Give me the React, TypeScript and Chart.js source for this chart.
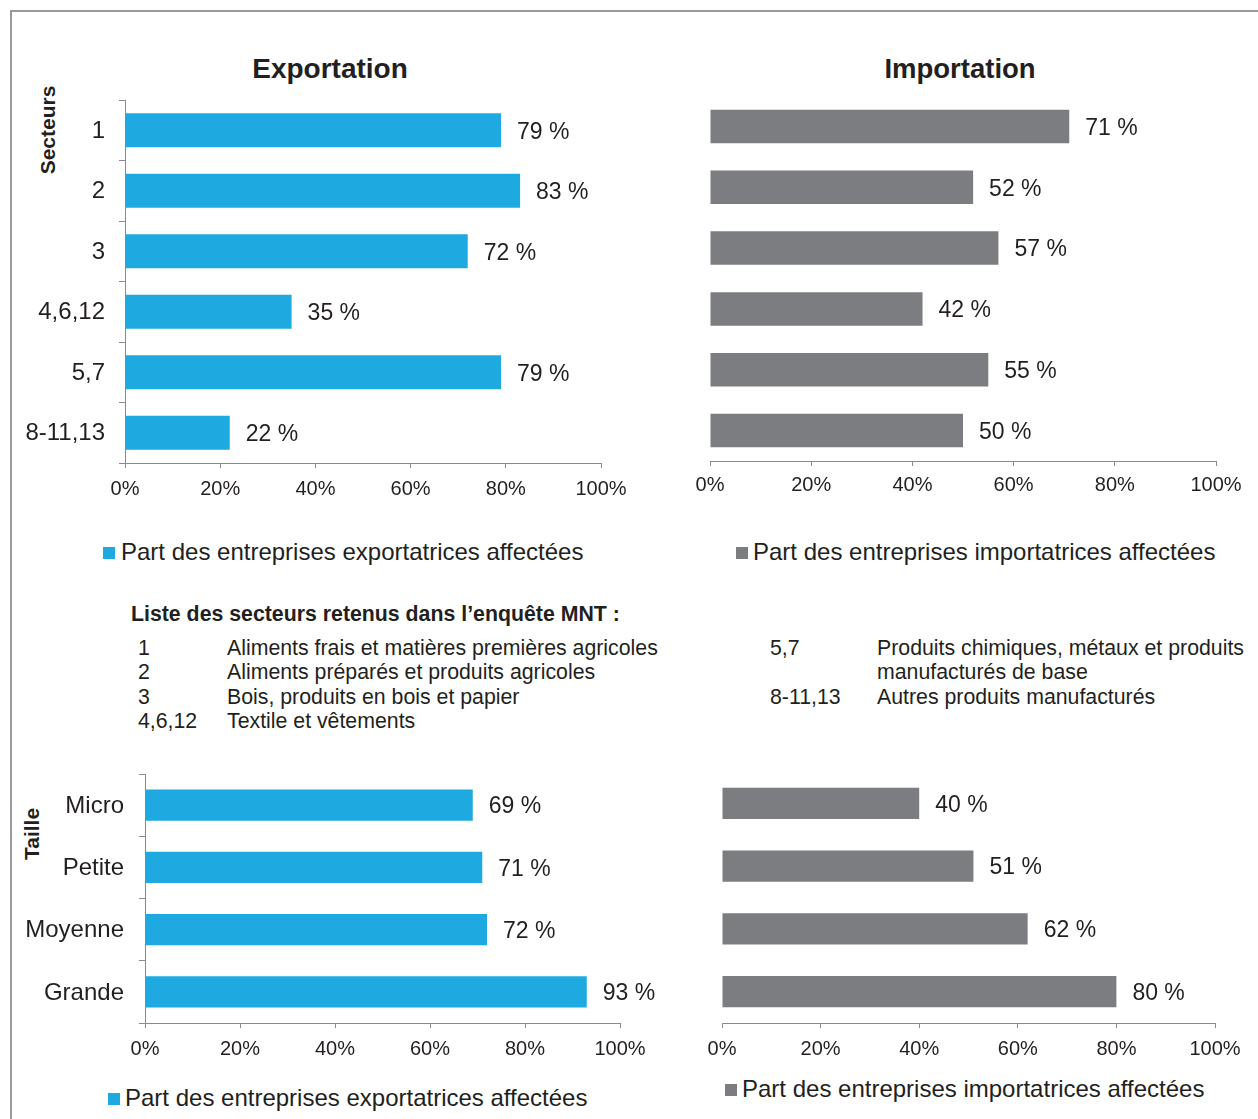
import React, { useEffect, useRef } from 'react';
import { Chart, registerables } from 'chart.js';

Chart.register(...registerables);

const FONT = '"Liberation Sans", Arial, Helvetica, sans-serif';
const TEXT = '#231f20';
const AXIS = '#8a8a8a';
const BLUE = '#1eaae1';
const GRAY = '#7c7d81';

// ---- data ----
const sectorLabels = ['1', '2', '3', '4,6,12', '5,7', '8-11,13'];
const sectorExport = [79, 83, 72, 35, 79, 22];
const sectorImport = [71, 52, 57, 42, 55, 50];
const sizeLabels = ['Micro', 'Petite', 'Moyenne', 'Grande'];
const sizeExport = [69, 71, 72, 93];
const sizeImport = [40, 51, 62, 80];
const xTickStep = 20;
const xMax = 100;
const exportLegend = 'Part des entreprises exportatrices affectées';
const importLegend = 'Part des entreprises importatrices affectées';
const listTitle = 'Liste des secteurs retenus dans l\u2019enquête MNT :';
const listLeft = [
  ['1', 'Aliments frais et matières premières agricoles'],
  ['2', 'Aliments préparés et produits agricoles'],
  ['3', 'Bois, produits en bois et papier'],
  ['4,6,12', 'Textile et vêtements'],
];
const listRight = [
  ['5,7', 'Produits chimiques, métaux et produits'],
  ['', 'manufacturés de base'],
  ['8-11,13', 'Autres produits manufacturés'],
];

Chart.defaults.font.family = FONT;
Chart.defaults.color = TEXT;

const valueLabels = {
  id: 'valueLabels',
  afterDatasetsDraw(chart: any) {
    const ctx = chart.ctx;
    ctx.save();
    ctx.font = `23px ${FONT}`;
    ctx.fillStyle = TEXT;
    ctx.textAlign = 'left';
    ctx.textBaseline = 'middle';
    chart.data.datasets.forEach((ds: any, i: number) => {
      const meta = chart.getDatasetMeta(i);
      meta.data.forEach((bar: any, j: number) => {
        ctx.fillText(`${ds.data[j]} %`, bar.x + 16, bar.y + 2);
      });
    });
    ctx.restore();
  },
};

type PanelProps = {
  labels: string[];
  values: number[];
  color: string;
  legend: string;
  left: number;
  top: number;
  width: number;
  height: number;
  padding: { left: number; right: number; top: number; bottom: number };
  yWidth: number | null;
  xHeight: number;
  xTickPad: number;
  yTickPad: number;
  barPct: number;
};

function BarPanel(p: PanelProps) {
  const ref = useRef<HTMLCanvasElement | null>(null);
  useEffect(() => {
    if (!ref.current) return;
    const chart = new Chart(ref.current, {
      type: 'bar',
      data: {
        labels: p.labels,
        datasets: [
          {
            label: p.legend,
            data: p.values,
            backgroundColor: p.color,
            borderWidth: 0,
            barPercentage: p.barPct,
            categoryPercentage: 1,
          },
        ],
      },
      options: {
        indexAxis: 'y',
        responsive: false,
        maintainAspectRatio: false,
        animation: false,
        devicePixelRatio: 1,
        layout: { padding: p.padding },
        plugins: {
          legend: { display: false },
          title: { display: false },
          tooltip: { enabled: false },
        },
        scales: {
          x: {
            min: 0,
            max: xMax,
            ticks: {
              stepSize: xTickStep,
              callback: (v: any) => `${v}%`,
              font: { size: 20, family: FONT },
              color: TEXT,
              padding: p.xTickPad,
              maxRotation: 0,
            },
            grid: { drawOnChartArea: false, drawTicks: true, tickLength: 5, color: AXIS, lineWidth: 1 },
            border: { display: true, color: AXIS, width: 1 },
            afterFit: (s: any) => {
              s.height = p.xHeight;
              s.paddingLeft = 0;
              s.paddingRight = 0;
            },
          },
          y: {
            display: p.yWidth !== null,
            ticks: { font: { size: 24, family: FONT }, color: TEXT, padding: p.yTickPad, labelOffset: 1 },
            grid: { drawOnChartArea: false, drawTicks: true, tickLength: 6, color: AXIS, offset: true, lineWidth: 1 },
            border: { display: true, color: AXIS, width: 1 },
            afterFit: (s: any) => {
              if (p.yWidth !== null) s.width = p.yWidth;
              s.paddingTop = 0;
              s.paddingBottom = 0;
            },
          },
        },
      },
      plugins: [valueLabels],
    } as any);
    return () => chart.destroy();
  }, []);
  return (
    <canvas
      ref={ref}
      width={p.width}
      height={p.height}
      style={{ position: 'absolute', left: p.left, top: p.top, width: p.width, height: p.height, display: 'block' }}
    />
  );
}

const textBase: React.CSSProperties = {
  position: 'absolute',
  fontFamily: FONT,
  color: TEXT,
  whiteSpace: 'nowrap',
};

function Legend(props: { boxX: number; textX: number; cy: number; color: string; text: string }) {
  return (
    <>
      <div
        style={{
          position: 'absolute',
          left: props.boxX,
          top: props.cy - 6,
          width: 12,
          height: 12,
          background: props.color,
        }}
      />
      <div style={{ ...textBase, left: props.textX, top: props.cy - 15, fontSize: 24, lineHeight: '28px' }}>
        {props.text}
      </div>
    </>
  );
}

export default function App() {
  const rowTop = 635;
  const rowH = 24.4;
  const listFont = 21.3;
  return (
    <div
      style={{
        position: 'absolute',
        left: 0,
        top: 0,
        width: 1258,
        height: 1119,
        overflow: 'hidden',
        background: '#ffffff',
      }}
    >
      <div
        style={{
          position: 'absolute',
          left: 10,
          top: 10,
          width: 1400,
          height: 1400,
          borderTop: '2px solid #9a9a9a',
          borderLeft: '2px solid #9a9a9a',
        }}
      />
      <div style={{ ...textBase, left: 130, top: 52, width: 400, textAlign: 'center', fontWeight: 'bold', fontSize: 28, lineHeight: '34px' }}>
        Exportation
      </div>
      <div style={{ ...textBase, left: 760, top: 52, width: 400, textAlign: 'center', fontWeight: 'bold', fontSize: 27.5, lineHeight: '34px' }}>
        Importation
      </div>
      <div
        style={{
          ...textBase,
          left: 47,
          top: 130,
          fontWeight: 'bold',
          fontSize: 21,
          lineHeight: '21px',
          transform: 'translate(-50%, -50%) rotate(-90deg)',
        }}
      >
        Secteurs
      </div>
      <div
        style={{
          ...textBase,
          left: 31,
          top: 834,
          fontWeight: 'bold',
          fontSize: 21,
          lineHeight: '21px',
          transform: 'translate(-50%, -50%) rotate(-90deg)',
        }}
      >
        Taille
      </div>

      <BarPanel
        labels={sectorLabels}
        values={sectorExport}
        color={BLUE}
        legend={exportLegend}
        left={12}
        top={20}
        width={648}
        height={483}
        padding={{ left: 0, right: 59, top: 80, bottom: 0 }}
        yWidth={113}
        xHeight={40}
        xTickPad={9}
        yTickPad={14}
        barPct={0.56}
      />
      <BarPanel
        labels={sectorLabels}
        values={sectorImport}
        color={GRAY}
        legend={importLegend}
        left={690}
        top={20}
        width={568}
        height={481}
        padding={{ left: 20, right: 42, top: 76, bottom: 0 }}
        yWidth={null}
        xHeight={40}
        xTickPad={7}
        yTickPad={14}
        barPct={0.55}
      />
      <BarPanel
        labels={sizeLabels}
        values={sizeExport}
        color={BLUE}
        legend={exportLegend}
        left={12}
        top={740}
        width={668}
        height={323}
        padding={{ left: 0, right: 60, top: 34, bottom: 0 }}
        yWidth={133}
        xHeight={40}
        xTickPad={9}
        yTickPad={15}
        barPct={0.5}
      />
      <BarPanel
        labels={sizeLabels}
        values={sizeImport}
        color={GRAY}
        legend={importLegend}
        left={700}
        top={740}
        width={558}
        height={323}
        padding={{ left: 22, right: 43, top: 32, bottom: 0 }}
        yWidth={null}
        xHeight={40}
        xTickPad={9}
        yTickPad={14}
        barPct={0.5}
      />

      <Legend boxX={103} textX={121} cy={553} color={BLUE} text={exportLegend} />
      <Legend boxX={736} textX={753} cy={553} color={GRAY} text={importLegend} />
      <Legend boxX={108} textX={125} cy={1099} color={BLUE} text={exportLegend} />
      <Legend boxX={725} textX={742} cy={1090} color={GRAY} text={importLegend} />

      <div style={{ ...textBase, left: 131, top: 601, fontWeight: 'bold', fontSize: listFont, lineHeight: '26px' }}>{listTitle}</div>
      {listLeft.map((r, i) => (
        <React.Fragment key={'l' + i}>
          <div style={{ ...textBase, left: 138, top: rowTop + i * rowH, fontSize: listFont, lineHeight: '26px' }}>{r[0]}</div>
          <div style={{ ...textBase, left: 227, top: rowTop + i * rowH, fontSize: listFont, lineHeight: '26px' }}>{r[1]}</div>
        </React.Fragment>
      ))}
      {listRight.map((r, i) => (
        <React.Fragment key={'r' + i}>
          <div style={{ ...textBase, left: 770, top: rowTop + i * rowH, fontSize: listFont, lineHeight: '26px' }}>{r[0]}</div>
          <div style={{ ...textBase, left: 877, top: rowTop + i * rowH, fontSize: listFont, lineHeight: '26px' }}>{r[1]}</div>
        </React.Fragment>
      ))}
    </div>
  );
}
